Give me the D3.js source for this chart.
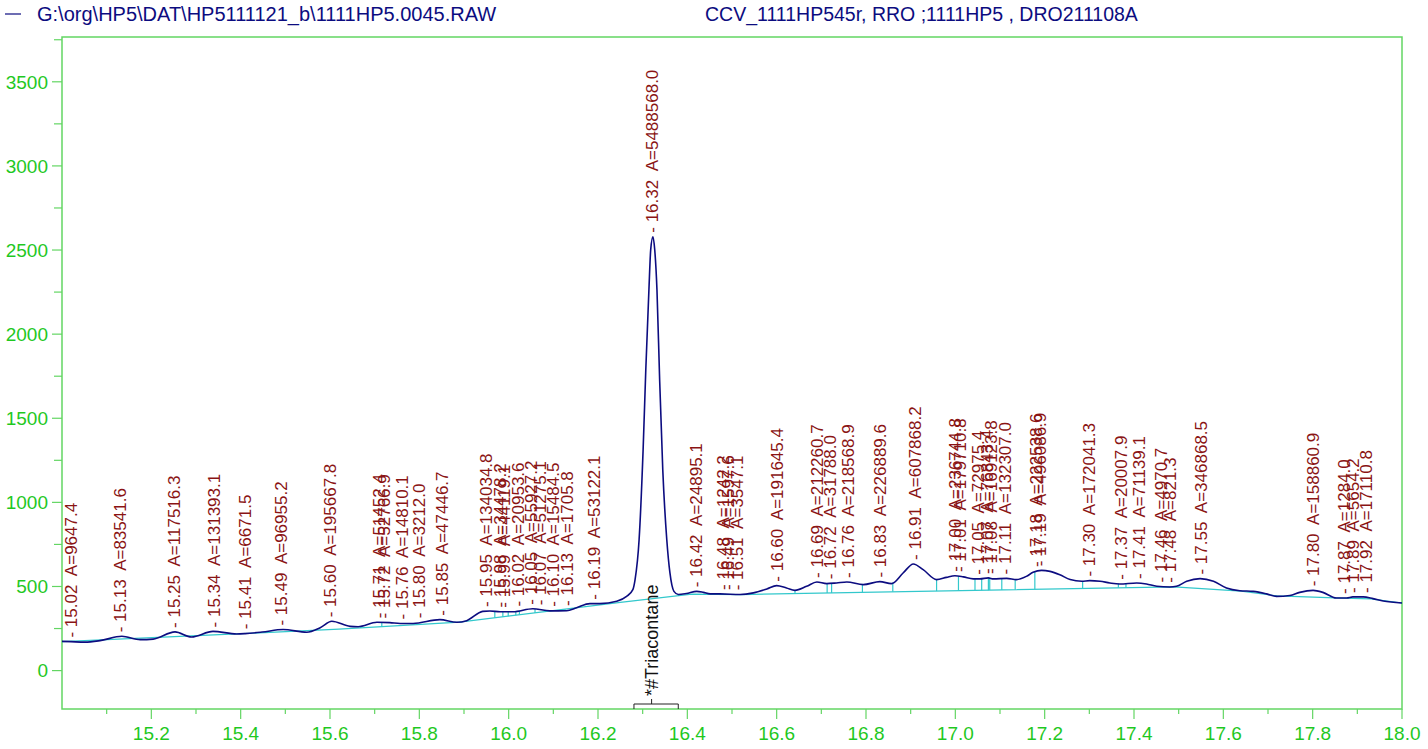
<!DOCTYPE html>
<html><head><meta charset="utf-8">
<script src="https://cdn.jsdelivr.net/npm/d3@7"></script>
<style>
body{margin:0;background:#fff;}
svg{display:block;font-family:"Liberation Sans",Arial,Helvetica,sans-serif;}
</style></head><body>
<svg id="c" width="1428" height="749"></svg>
<script>
// ---------- data ----------
const headerFile = "G:\\org\\HP5\\DAT\\HP5111121_b\\1111HP5.0045.RAW";
const headerMethod = "CCV_1111HP545r, RRO ;1111HP5 , DRO211108A";

const traceTime = [15.000,15.020,15.051,15.085,15.134,15.175,15.204,15.253,15.290,15.338,15.391,15.410,15.448,15.495,15.548,15.578,15.604,15.645,15.663,15.705,15.734,15.757,15.786,15.846,15.884,15.906,15.942,15.958,15.981,16.010,16.054,16.092,16.130,16.152,16.182,16.204,16.242,16.264,16.278,16.283,16.292,16.301,16.307,16.314,16.318,16.323,16.327,16.332,16.338,16.345,16.354,16.361,16.370,16.380,16.398,16.421,16.436,16.451,16.473,16.518,16.548,16.578,16.600,16.622,16.641,16.667,16.690,16.712,16.734,16.757,16.794,16.831,16.857,16.883,16.906,16.928,16.958,16.980,16.999,17.018,17.040,17.055,17.074,17.085,17.115,17.137,17.159,17.174,17.193,17.212,17.234,17.257,17.283,17.301,17.324,17.346,17.368,17.406,17.428,17.451,17.480,17.495,17.518,17.548,17.578,17.607,17.637,17.667,17.697,17.719,17.749,17.771,17.801,17.823,17.853,17.876,17.890,17.913,17.935,17.958,18.000];
const traceSignal = [174,172,169,178,204,184,187,230,200,233,218,220,229,244,228,255,293,263,261,287,285,280,280,303,287,297,352,354,350,350,368,355,356,374,398,398,412,441,481,541,778,1313,1788,2264,2502,2579,2502,2264,1729,1194,778,582,471,452,458,471,465,456,456,452,462,485,505,491,477,501,527,517,521,527,511,529,517,580,634,600,541,554,564,557,545,545,551,545,548,541,560,584,596,590,570,541,531,535,531,521,515,521,515,501,497,501,531,547,531,491,475,471,456,441,446,465,477,465,432,432,438,438,428,414,402];

const baseTime = [15.00,15.39,15.62,15.89,16.25,16.41,16.52,17.49,17.64,17.72,17.85,17.93,18.00];
const baseSignal = [172,218,246,288,405,455,452,498,472,444,432,426,402];

const dropTime = [15.669,15.716,15.969,15.987,15.999,16.016,16.024,16.059,16.092,16.126,16.641,16.713,16.723,16.792,16.860,16.958,17.007,17.044,17.059,17.074,17.077,17.104,17.134,17.178,17.285,17.365,17.382];

const peakRT = ["15.02","15.13","15.25","15.34","15.41","15.49","15.60","15.71","15.72","15.76","15.80","15.85","15.95","15.98","15.99","16.02","16.05","16.07","16.10","16.13","16.19","16.32","16.42","16.48","16.49","16.51","16.60","16.69","16.72","16.76","16.83","16.91","17.00","17.01","17.05","17.07","17.08","17.11","17.18","17.19","17.30","17.37","17.41","17.46","17.48","17.55","17.80","17.87","17.89","17.92"];
const peakArea = ["9647.4","83541.6","117516.3","131393.1","6671.5","96955.2","195667.8","51452.4","52766.9","14810.1","3212.0","47446.7","134034.8","34478.2","44119.1","20953.6","55927.2","51275.1","15484.5","1705.8","53122.1","5488568.0","24895.1","1242.2","1597.6","3547.1","191645.4","212260.7","31788.0","218568.9","226889.6","607868.2","236744.8","179710.8","72975.4","76843.4","169123.8","132307.0","222538.6","496086.9","172041.3","20007.9","71139.1","4970.7","821.3","346868.5","158860.9","1284.0","5654.2","17110.8"];

const compoundName = "*#Triacontane";
const compoundRT = [16.2805, 16.32, 16.3797];

const xMajor = [15.2,15.4,15.6,15.8,16.0,16.2,16.4,16.6,16.8,17.0,17.2,17.4,17.6,17.8,18.0];
const xMinor = [15.1,15.3,15.5,15.7,15.9,16.1,16.3,16.5,16.7,16.9,17.1,17.3,17.5,17.7,17.9];
const yMajor = [0,500,1000,1500,2000,2500,3000,3500];
const yMinor = [250,750,1250,1750,2250,2750,3250,3750];

// ---------- layout ----------
const L = 62, R = 1402, T = 37, B = 709;
const x = d3.scaleLinear().domain([15, 18]).range([L, R]);
const y = d3.scaleLinear().domain([0, 3500]).range([670.6, 81.8]);

const svg = d3.select("#c");
const green = "#63d663", greenTxt = "#1fc81f", red = "#8a1414", navy = "#0c0c80", cyan = "#33c8cc";

function interp(ts, vs, t) {
  const i = d3.bisectLeft(ts, t);
  if (i <= 0) return vs[0];
  if (i >= ts.length) return vs[ts.length - 1];
  const t0 = ts[i-1], t1 = ts[i];
  return vs[i-1] + (vs[i] - vs[i-1]) * (t - t0) / (t1 - t0);
}

// header
svg.append("line").attr("x1", 5).attr("x2", 21).attr("y1", 14).attr("y2", 14).attr("stroke", navy).attr("stroke-width", 1.2);
svg.append("text").attr("x", 37).attr("y", 21).attr("font-size", 20).attr("fill", navy).text(headerFile);
svg.append("text").attr("x", 705).attr("y", 21).attr("font-size", 19.5).attr("fill", navy).text(headerMethod);

// frame
svg.append("rect").attr("x", L).attr("y", T).attr("width", R - L).attr("height", B - T)
  .attr("fill", "none").attr("stroke", green).attr("stroke-width", 1.5);

// x axis ticks
const gx = svg.append("g");
gx.selectAll("line.maj").data(xMajor).join("line").attr("class","maj")
  .attr("x1", d => x(d)).attr("x2", d => x(d)).attr("y1", B).attr("y2", B + 10).attr("stroke", green).attr("stroke-width", 1.2);
gx.selectAll("line.min").data(xMinor).join("line").attr("class","min")
  .attr("x1", d => x(d)).attr("x2", d => x(d)).attr("y1", B).attr("y2", B + 5).attr("stroke", green).attr("stroke-width", 1.2);
gx.selectAll("text").data(xMajor).join("text")
  .attr("x", d => x(d)).attr("y", 740).attr("text-anchor", "middle").attr("font-size", 19).attr("fill", greenTxt)
  .text(d => d3.format(".1f")(d));

// y axis ticks
const gy = svg.append("g");
gy.selectAll("line.maj").data(yMajor).join("line").attr("class","maj")
  .attr("x1", L - 10).attr("x2", L).attr("y1", d => y(d)).attr("y2", d => y(d)).attr("stroke", green).attr("stroke-width", 1.2);
gy.selectAll("line.min").data(yMinor).join("line").attr("class","min")
  .attr("x1", L - 8).attr("x2", L).attr("y1", d => y(d)).attr("y2", d => y(d)).attr("stroke", green).attr("stroke-width", 1.2);
gy.selectAll("text").data(yMajor).join("text")
  .attr("x", 48).attr("y", d => y(d)).attr("dy", "0.36em").attr("text-anchor", "end").attr("font-size", 19).attr("fill", greenTxt)
  .text(d => d);

// baseline
const baseData = baseTime.map((t, i) => [t, baseSignal[i]]);
svg.append("path").datum(baseData)
  .attr("d", d3.line().x(d => x(d[0])).y(d => y(d[1])))
  .attr("fill", "none").attr("stroke", cyan).attr("stroke-width", 1.2);

// drop lines
svg.append("g").selectAll("line").data(dropTime).join("line")
  .attr("x1", d => x(d)).attr("x2", d => x(d))
  .attr("y1", d => y(interp(traceTime, traceSignal, d)))
  .attr("y2", d => y(interp(baseTime, baseSignal, d)))
  .attr("stroke", cyan).attr("stroke-width", 1.2);

// trace
const traceData = traceTime.map((t, i) => [t, traceSignal[i]]);
svg.append("path").datum(traceData)
  .attr("d", d3.line().x(d => x(d[0])).y(d => y(d[1])).curve(d3.curveMonotoneX))
  .attr("fill", "none").attr("stroke", navy).attr("stroke-width", 1.6);

// peak labels
function apex(t) {
  let m = -Infinity;
  for (const dt of [-0.006, -0.003, 0, 0.003, 0.006]) m = Math.max(m, interp(traceTime, traceSignal, t + dt));
  traceTime.forEach((tt, i) => { if (Math.abs(tt - t) <= 0.006) m = Math.max(m, traceSignal[i]); });
  return m;
}
svg.append("g").selectAll("text").data(peakRT.map((r, i) => ({ rt: +r, label: r, area: peakArea[i] })))
  .join("text")
  .attr("transform", d => `translate(${x(d.rt)},${y(apex(d.rt)) - 4}) rotate(-90)`)
  .attr("dy", "0.36em").attr("font-size", 17).attr("fill", red)
  .style("white-space", "pre")
  .text(d => `- ${d.label}  A=${d.area}`);

// compound marker
const cg = svg.append("g");
cg.append("path")
  .attr("d", `M${x(compoundRT[0])},${B} V${B - 5} H${x(compoundRT[2])} V${B}`)
  .attr("fill", "none").attr("stroke", "#222").attr("stroke-width", 1);
cg.append("line").attr("x1", x(compoundRT[1])).attr("x2", x(compoundRT[1])).attr("y1", B - 5).attr("y2", B - 10)
  .attr("stroke", "#222").attr("stroke-width", 1);
cg.append("text")
  .attr("transform", `translate(${x(compoundRT[1])},${B - 13}) rotate(-90)`)
  .attr("dy", "0.36em").attr("font-size", 18).attr("fill", "#111")
  .text(compoundName);
</script>
</body></html>
